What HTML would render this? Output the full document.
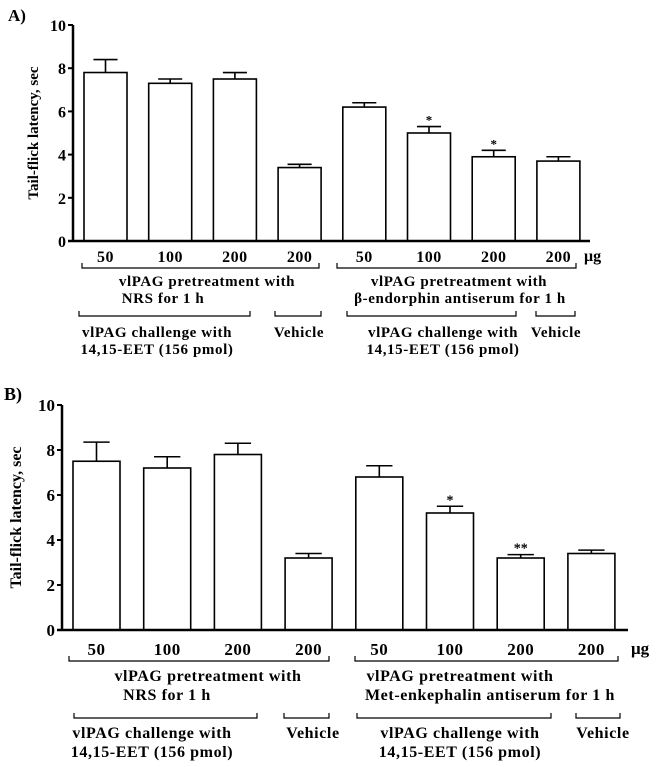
<!DOCTYPE html>
<html><head><meta charset="utf-8"><style>
html,body{margin:0;padding:0;background:#fff;}
svg{display:block;font-family:"Liberation Serif",serif;font-weight:bold;}
</style></head><body>
<svg id="fig" width="660" height="767" viewBox="0 0 660 767" xmlns="http://www.w3.org/2000/svg"></svg>
<script>
const categories = ["50","100","200","200","50","100","200","200"];
const valuesA = [7.8, 7.3, 7.5, 3.4, 6.2, 5.0, 3.9, 3.7];
const errorsA = [0.6, 0.2, 0.3, 0.15, 0.2, 0.3, 0.3, 0.2];
const starsA = ["", "", "", "", "", "*", "*", ""];
const valuesB = [7.5, 7.2, 7.8, 3.2, 6.8, 5.2, 3.2, 3.4];
const errorsB = [0.85, 0.5, 0.5, 0.2, 0.5, 0.3, 0.15, 0.15];
const starsB = ["", "", "", "", "", "*", "**", ""];
const yTicks = [0, 2, 4, 6, 8, 10];

const NS = "http://www.w3.org/2000/svg";
const svg = document.getElementById('fig');
function mk(tag, attrs, parent, text){
  const e = document.createElementNS(NS, tag);
  for (const k in attrs) e.setAttribute(k, attrs[k]);
  if (text !== undefined) e.textContent = text;
  (parent || svg).appendChild(e);
  return e;
}
function bracket(g, x1, x2, y, name){
  const p = mk('path', {d:`M${x1} ${y-5}V${y}H${x2}V${y-5}`, fill:'none', stroke:'#000', 'stroke-width':1.2}, g);
  
  
}
function txt(g, x, y, s, size, name, anchor, ls){
  const t = mk('text', {x:x, y:y, 'font-size':size, 'text-anchor':anchor||'middle'}, g, s);
  if (ls) t.setAttribute('letter-spacing', ls);
  
  
  return t;
}

function panel(cfg){
  const g = mk('g', {});
  
  
  const y = v => cfg.y0 - (v / 10) * (cfg.y0 - cfg.y10);
  const x = i => cfg.bx0 + i * cfg.pitch;
  txt(g, cfg.labX, cfg.labY, cfg.label, cfg.fs+2, 'panel-label', 'start');
  const ya = mk('line', {x1:cfg.ax, y1:y(10), x2:cfg.ax, y2:cfg.y0, stroke:'#000','stroke-width':2.5}, g);
   
  yTicks.forEach(t => {
    const l = mk('line', {x1:cfg.ax-5, y1:y(t), x2:cfg.ax, y2:y(t), stroke:'#000','stroke-width':2}, g);
     
    txt(g, cfg.ax-7, y(t)+6, String(t), cfg.fs+1, 'y-tick-label', 'end');
  });
  const yt = txt(g, 0, 0, 'Tail-flick latency, sec', cfg.fs, 'y-axis-title');
  yt.setAttribute('transform', `translate(${cfg.ytX},${(y(10)+cfg.y0)/2}) rotate(-90)`);
  cfg.vals.forEach((v, i) => {
    const bx = x(i), top = y(v), et = y(v + cfg.errs[i]);
    const cx = bx + cfg.bw/2;
    const eb = mk('path', {d:`M${cx} ${top}V${et}M${cx-cfg.bw*0.28} ${et}H${cx+cfg.bw*0.28}`, stroke:'#000','stroke-width':1.6, fill:'none'}, g);
     
    const r = mk('rect', {x:bx, y:top, width:cfg.bw, height:cfg.y0-top, fill:'#fff', stroke:'#000','stroke-width':1.6}, g);
     
    if (cfg.stars[i]) txt(g, cx, et-2, cfg.stars[i], cfg.fs-2, 'significance-star');
    txt(g, cx, cfg.numY, categories[i], cfg.fs+1, 'x-tick-label', 'middle', 0.5);
  });
  const xa = mk('line', {x1:cfg.ax-5, y1:cfg.y0, x2:cfg.axEnd, y2:cfg.y0, stroke:'#000','stroke-width':2.5}, g);
   
  txt(g, cfg.ugX, cfg.numY-1, 'μg', cfg.fs+1, 'unit-label', 'start');
  cfg.brackets.forEach(b => bracket(g, b[0], b[1], b[2], b[3]));
  cfg.texts.forEach(t => txt(g, t[0], t[1], t[2], cfg.fs, t[3], 'middle', 0.6));
}

panel({name:'panel-a', label:'A)', labX:8, labY:21, fs:15, ax:73, y0:241, y10:25, bx0:84, pitch:64.7, bw:43, axEnd:590, ytX:38, numY:262, ugX:584,
  vals:valuesA, errs:errorsA, stars:starsA,
  brackets:[[82,319,268,'pretreatment-bracket-nrs'],[337,576,268,'pretreatment-bracket-antiserum'],
    [79,250,316,'challenge-bracket-left'],[275,321,316,'vehicle-bracket-left'],[347,516,316,'challenge-bracket-right'],[536,575,316,'vehicle-bracket-right']],
  texts:[[207,286,'vlPAG pretreatment with','pretreatment-label-left'],[163,303,'NRS  for 1 h','nrs-label'],
    [459,286,'vlPAG pretreatment with','pretreatment-label-right'],[460,303,'β-endorphin antiserum for 1 h','antiserum-label'],
    [157,337,'vlPAG challenge with','challenge-label-left'],[157,354,'14,15-EET (156 pmol)','eet-label-left'],[299,337,'Vehicle','vehicle-label-left'],
    [443,337,'vlPAG challenge with','challenge-label-right'],[443,354,'14,15-EET (156 pmol)','eet-label-right'],[556,337,'Vehicle','vehicle-label-right']]
});

panel({name:'panel-b', label:'B)', labX:4, labY:400, fs:16, ax:62, y0:630, y10:405, bx0:73, pitch:70.7, bw:47, axEnd:628, ytX:21, numY:655, ugX:631,
  vals:valuesB, errs:errorsB, stars:starsB,
  brackets:[[69,329,661,'pretreatment-bracket-nrs'],[355,618,661,'pretreatment-bracket-antiserum'],
    [74,257,718,'challenge-bracket-left'],[284,329,718,'vehicle-bracket-left'],[357,551,718,'challenge-bracket-right'],[576,620,718,'vehicle-bracket-right']],
  texts:[[208,681,'vlPAG pretreatment with','pretreatment-label-left'],[167,700,'NRS for 1 h','nrs-label'],
    [460,681,'vlPAG pretreatment with','pretreatment-label-right'],[490,700,'Met-enkephalin antiserum  for 1 h','antiserum-label'],
    [152,738,'vlPAG challenge with','challenge-label-left'],[152,757,'14,15-EET (156 pmol)','eet-label-left'],[313,738,'Vehicle','vehicle-label-left'],
    [460,738,'vlPAG challenge with','challenge-label-right'],[460,757,'14,15-EET (156 pmol)','eet-label-right'],[603,738,'Vehicle','vehicle-label-right']]
});
</script>
</body></html>
